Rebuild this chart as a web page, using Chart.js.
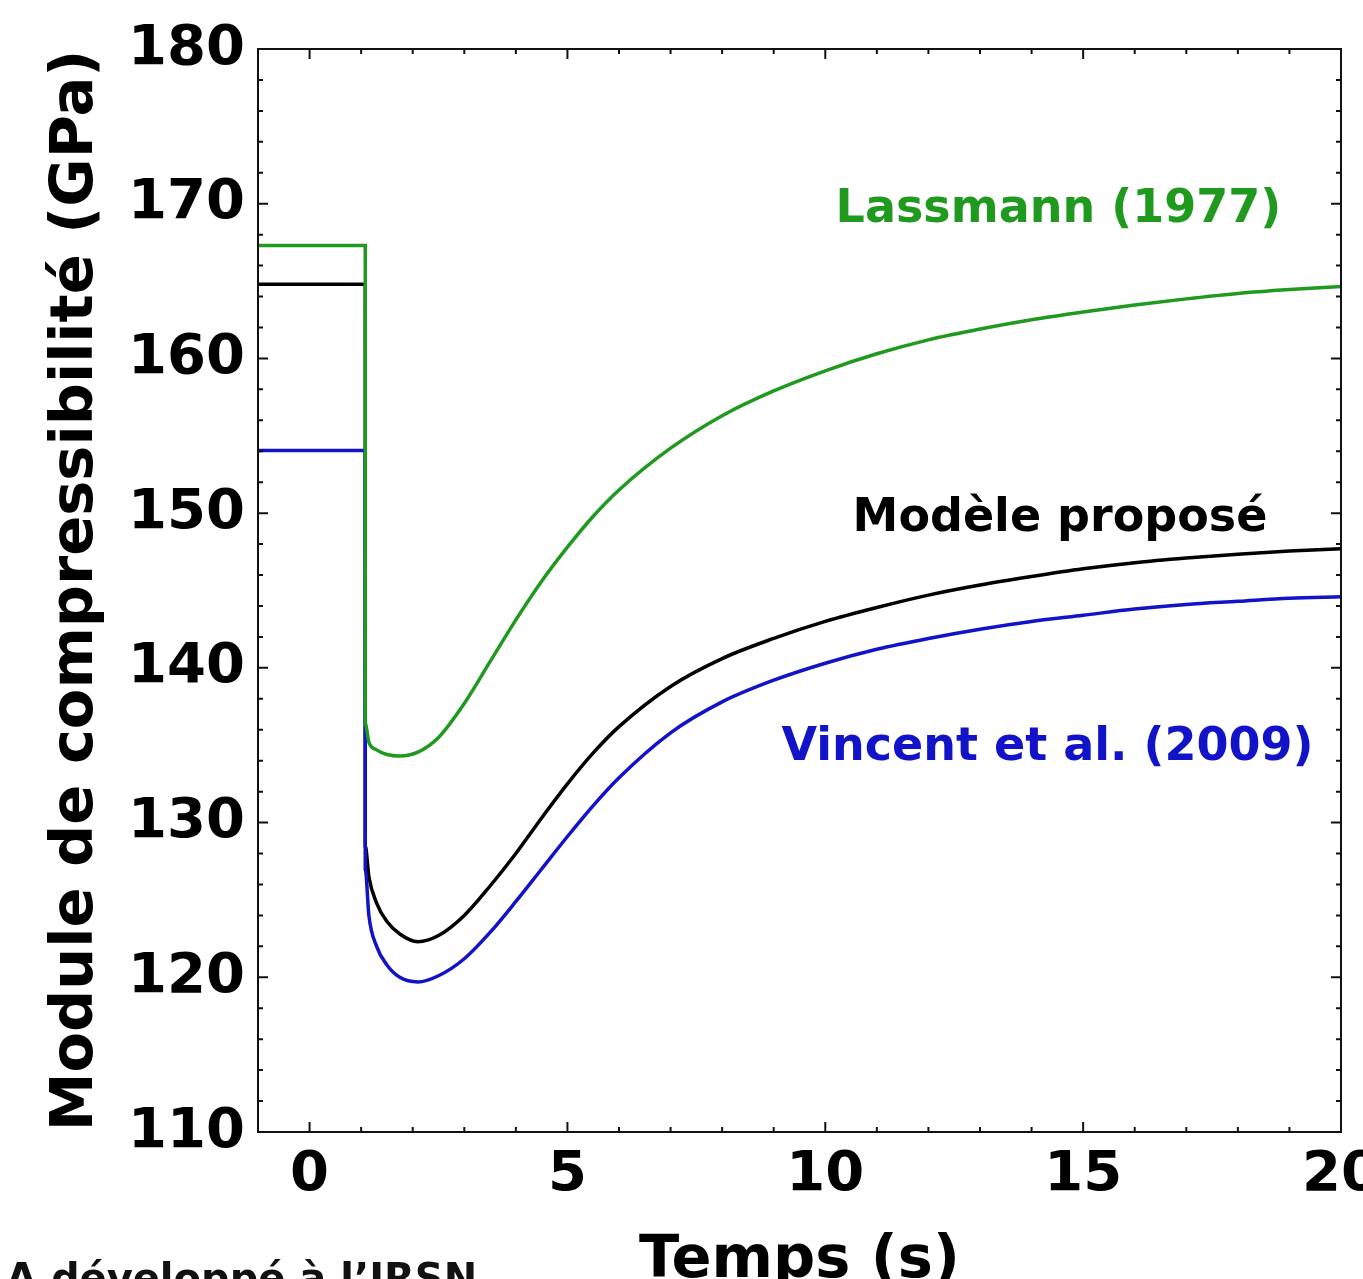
<!DOCTYPE html>
<html lang="fr">
<head>
<meta charset="utf-8">
<title>Module de compressibilité</title>
<script src="https://cdn.jsdelivr.net/npm/chart.js@4.4.1/dist/chart.umd.min.js"></script>
<style>
  html, body { margin: 0; padding: 0; background: #fff; overflow: hidden; }
  .wrap { position: relative; width: 1363px; height: 1279px; overflow: hidden; }
  canvas { position: absolute; left: 0; top: 0; }
  .note { position: absolute; left: 6px; top: 1258px; font: bold 40px "DejaVu Sans", sans-serif; line-height: 40px; white-space: nowrap; color: #111; }
</style>
</head>
<body>
<div class="wrap">
  <canvas id="chart" width="1400" height="1330"></canvas>
  <div class="note">A développé à l’IRSN</div>
</div>
<script>
// temps (s) - the step happens at t ~ 1.08 (point repeated for the vertical drop)
const temps = [-1, 1.08, 1.08, 1.15, 1.3, 1.5, 1.75, 2.1, 2.5, 3.0, 3.5, 4.0, 4.5, 5.0, 5.5, 6.0,
               7, 8, 9, 10, 11, 12, 13, 14, 15, 16, 17, 18, 19, 20];

// module de compressibilite (GPa)
const lassmann = [167.3, 167.3, 136.4, 135.2, 134.7, 134.4, 134.3, 134.55, 135.5, 137.7, 140.4, 143.1, 145.6, 147.8, 149.8, 151.5,
                  154.2, 156.3, 157.9, 159.2, 160.3, 161.2, 161.9, 162.5, 163.0, 163.45, 163.85, 164.2, 164.45, 164.65];
const modele = [164.8, 164.8, 128.5, 126.5, 124.8, 123.6, 122.8, 122.3, 122.7, 124.0, 125.9, 128.0, 130.3, 132.5, 134.5, 136.2,
                138.8, 140.6, 141.9, 143.0, 143.9, 144.7, 145.35, 145.9, 146.4, 146.8, 147.1, 147.35, 147.55, 147.7];
const vincent = [154.05, 154.05, 127.0, 124.0, 122.0, 120.8, 120.0, 119.7, 120.1, 121.2, 122.9, 124.9, 127.0, 129.1, 131.1, 132.9,
                 135.8, 137.8, 139.2, 140.3, 141.2, 141.9, 142.5, 143.0, 143.4, 143.8, 144.1, 144.3, 144.5, 144.6];

const xTicks = [0, 5, 10, 15, 20];
const yTicks = [110, 120, 130, 140, 150, 160, 170, 180];

const GREEN = '#1f9a1f';
const BLUE = '#1212c8';
const BLACK = '#000000';

// curve labels, placed in data coordinates
const curveLabels = [
    { text: 'Lassmann (1977)', x: 10.2, y: 168.8, color: GREEN },
    { text: 'Modèle proposé', x: 10.53, y: 148.84, color: BLACK },
    { text: 'Vincent et al. (2009)', x: 9.15, y: 134.04, color: BLUE }
];

const tickFont = { family: 'DejaVu Sans', weight: 'bold', size: 56 };
const titleFont = { family: 'DejaVu Sans', weight: 'bold', size: 59 };

function toPoints(values) {
    return temps.map((t, i) => ({ x: t, y: values[i] }));
}

// frame + inward ticks (matplotlib look) + curve labels
const framePlugin = {
    id: 'frame',
    afterDraw(chart) {
        const ctx = chart.ctx;
        const a = chart.chartArea;
        const xs = chart.scales.x;
        const ys = chart.scales.y;
        ctx.save();
        ctx.strokeStyle = '#111';
        ctx.lineWidth = 2;
        ctx.beginPath();
        for (let v = 0; v <= 20; v++) {
            let px = xs.getPixelForValue(v);
            let len = v % 5 === 0 ? 10 : 5;
            ctx.moveTo(px, a.bottom); ctx.lineTo(px, a.bottom - len);
            ctx.moveTo(px, a.top); ctx.lineTo(px, a.top + len);
        }
        for (let v = 112; v < 180; v += 2) {
            let py = ys.getPixelForValue(v);
            let len = v % 10 === 0 ? 10 : 5;
            ctx.moveTo(a.left, py); ctx.lineTo(a.left + len, py);
            ctx.moveTo(a.right, py); ctx.lineTo(a.right - len, py);
        }
        ctx.stroke();
        ctx.strokeRect(a.left, a.top, a.right - a.left, a.bottom - a.top);

        ctx.font = 'bold 46px "DejaVu Sans"';
        ctx.textBaseline = 'alphabetic';
        ctx.textAlign = 'left';
        curveLabels.forEach(l => {
            ctx.fillStyle = l.color;
            ctx.fillText(l.text, xs.getPixelForValue(l.x), ys.getPixelForValue(l.y));
        });
        ctx.restore();
    }
};

const ctx = document.getElementById('chart').getContext('2d');
const chart = new Chart(ctx, {
    type: 'scatter',
    data: {
        datasets: [{
            label: 'Lassmann (1977)',
            data: toPoints(lassmann),
            borderColor: GREEN
        }, {
            label: 'Vincent et al. (2009)',
            data: toPoints(vincent),
            borderColor: BLUE
        }, {
            label: 'Modèle proposé',
            data: toPoints(modele),
            borderColor: BLACK
        }]
    },
    options: {
        responsive: false,
        animation: false,
        showLine: true,
        datasets: {
            scatter: {
                borderWidth: 3.5,
                pointRadius: 0,
                pointHoverRadius: 0,
                cubicInterpolationMode: 'monotone'
            }
        },
        layout: { padding: { top: 49, right: 59, bottom: 0, left: 0 } },
        plugins: {
            legend: { display: false },
            tooltip: { enabled: false }
        },
        scales: {
            x: {
                type: 'linear',
                min: -1,
                max: 20,
                grid: { display: false },
                border: { display: false },
                afterBuildTicks: s => { s.ticks = xTicks.map(v => ({ value: v })); },
                afterFit: s => { s.height = 198; },
                ticks: { font: tickFont, color: '#000', padding: 2, maxRotation: 0 },
                title: {
                    display: true,
                    text: 'Temps (s)',
                    font: titleFont,
                    color: '#000',
                    padding: { top: 0, bottom: 33 }
                }
            },
            y: {
                type: 'linear',
                min: 110,
                max: 180,
                grid: { display: false },
                border: { display: false },
                afterBuildTicks: s => { s.ticks = yTicks.map(v => ({ value: v })); },
                afterFit: s => { s.width = 258; },
                ticks: { font: tickFont, color: '#000', padding: 5 },
                title: {
                    display: true,
                    text: 'Module de compressibilité (GPa)',
                    font: titleFont,
                    color: '#000',
                    padding: { top: 41, bottom: 0 }
                }
            }
        }
    },
    plugins: [framePlugin]
});
</script>
</body>
</html>
